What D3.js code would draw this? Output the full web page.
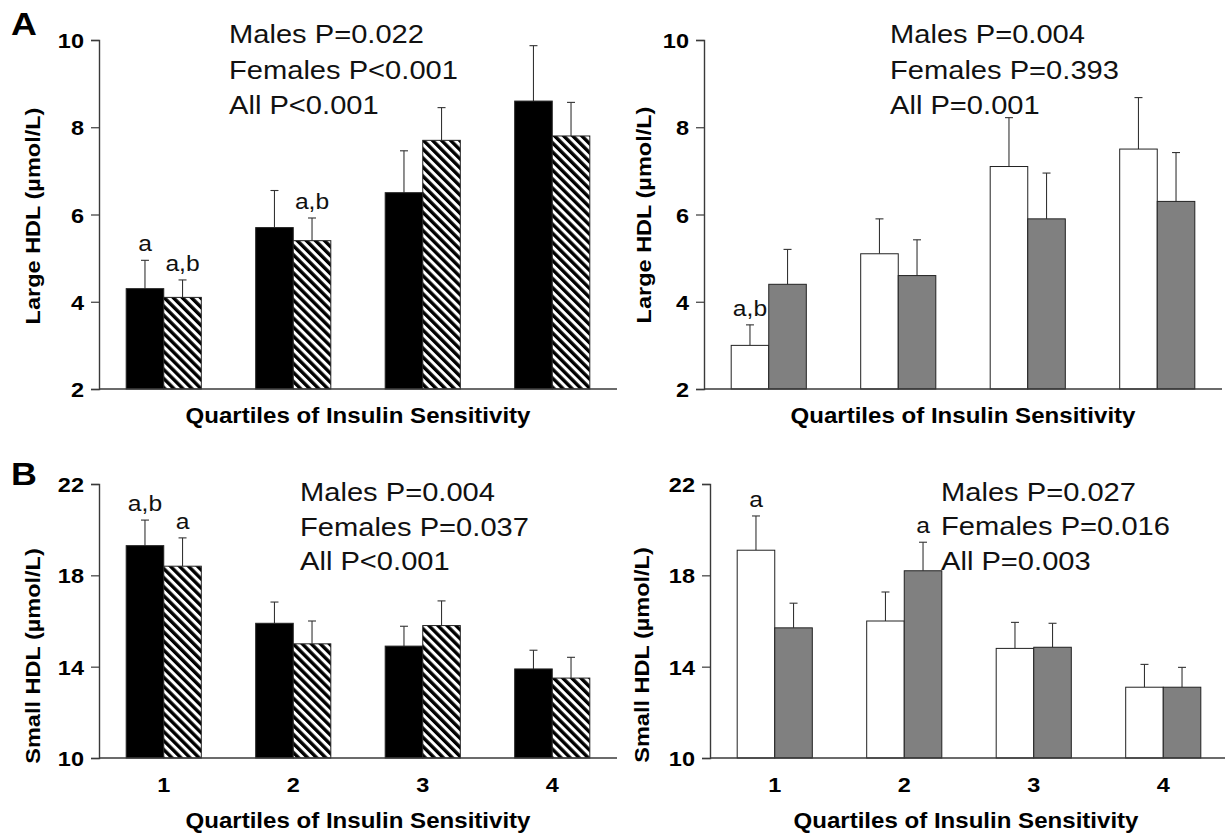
<!DOCTYPE html>
<html>
<head>
<meta charset="utf-8">
<script src="https://cdn.jsdelivr.net/npm/d3@7"></script>
<style>
  html, body { margin: 0; padding: 0; background: #fff; }
  svg { display: block; font-family: "Liberation Sans", Arial, sans-serif; }
</style>
</head>
<body>
<svg id="chart" width="1225" height="834"></svg>
<script>
// ---------------- DATA ----------------
const quartiles = ["1", "2", "3", "4"];

// Panel A (Large HDL), left: solid black / hatched
const largeLeftSolid      = [4.3, 5.7, 6.5, 8.6];
const largeLeftSolidErr   = [0.65, 0.85, 0.96, 1.27];
const largeLeftHatched    = [4.1, 5.4, 7.7, 7.8];
const largeLeftHatchedErr = [0.40, 0.52, 0.75, 0.77];
const largeLeftSolidLbl   = ["a", "", "", ""];
const largeLeftHatchedLbl = ["a,b", "a,b", "", ""];

// Panel A (Large HDL), right: white / gray
const largeRightWhite     = [3.0, 5.1, 7.1, 7.5];
const largeRightWhiteErr  = [0.47, 0.80, 1.12, 1.18];
const largeRightGray      = [4.4, 4.6, 5.9, 6.3];
const largeRightGrayErr   = [0.80, 0.82, 1.05, 1.12];
const largeRightWhiteLbl  = ["a,b", "", "", ""];
const largeRightGrayLbl   = ["", "", "", ""];

// Panel B (Small HDL), left: solid black / hatched
const smallLeftSolid      = [19.3, 15.9, 14.9, 13.9];
const smallLeftSolidErr   = [1.12, 0.93, 0.87, 0.82];
const smallLeftHatched    = [18.4, 15.0, 15.8, 13.5];
const smallLeftHatchedErr = [1.24, 1.00, 1.08, 0.91];
const smallLeftSolidLbl   = ["a,b", "", "", ""];
const smallLeftHatchedLbl = ["a", "", "", ""];

// Panel B (Small HDL), right: white / gray
const smallRightWhite     = [19.1, 16.0, 14.8, 13.1];
const smallRightWhiteErr  = [1.50, 1.27, 1.14, 1.00];
const smallRightGray      = [15.7, 18.2, 14.85, 13.1];
const smallRightGrayErr   = [1.08, 1.25, 1.05, 0.87];
const smallRightWhiteLbl  = ["a", "", "", ""];
const smallRightGrayLbl   = ["", "a", "", ""];

const largeTicks = [2, 4, 6, 8, 10];
const smallTicks = [10, 14, 18, 22];
const largeDomain = [2, 10];
const smallDomain = [10, 22];

const pLargeLeft  = ["Males P=0.022", "Females P<0.001", "All P<0.001"];
const pLargeRight = ["Males P=0.004", "Females P=0.393", "All P=0.001"];
const pSmallLeft  = ["Males P=0.004", "Females P=0.037", "All P<0.001"];
const pSmallRight = ["Males P=0.027", "Females P=0.016", "All P=0.003"];

const xTitle = "Quartiles of Insulin Sensitivity";
const yTitleLarge = "Large HDL (µmol/L)";
const yTitleSmall = "Small HDL (µmol/L)";

// ---------------- DRAWING ----------------
const svg = d3.select("#chart");
const SX = 1.12; // horizontal stretch of the reference's typeface

const defs = svg.append("defs");
const pat = defs.append("pattern")
  .attr("id", "hatch")
  .attr("patternUnits", "userSpaceOnUse")
  .attr("width", 6.4).attr("height", 6.4)
  .attr("patternTransform", "rotate(-45)");
pat.append("rect").attr("width", 6.4).attr("height", 6.4).attr("fill", "#fff");
pat.append("rect").attr("width", 3.4).attr("height", 6.4).attr("fill", "#000");

const fills = {
  solid:   "#000",
  hatched: "url(#hatch)",
  white:   "#fff",
  gray:    "#808080"
};
const axisColor = "#3a3a3a";

function addText(parent, x, y, str, size, opts = {}) {
  const t = parent.append("text")
    .attr("transform", opts.rotate
      ? `translate(${x},${y}) rotate(-90) scale(${SX},1)`
      : `translate(${x},${y}) scale(${SX},1)`)
    .attr("font-size", size)
    .attr("fill", opts.fill || "#000")
    .attr("text-anchor", opts.anchor || "start")
    .text(str);
  if (opts.bold) t.attr("font-weight", "bold");
  return t;
}

function drawPanel(cfg) {
  const g = svg.append("g");
  const x = d3.scaleBand().domain(quartiles).range([cfg.x0, cfg.x1])
    .paddingInner(0.42).paddingOuter(0.21);
  const sub = d3.scaleBand().domain([0, 1]).range([0, x.bandwidth()]);
  const y = d3.scaleLinear().domain(cfg.domain).range([cfg.yBottom, cfg.yTop]);

  // y axis
  const yAx = g.append("g").attr("transform", `translate(${cfg.x0},0)`)
    .call(d3.axisLeft(y).tickValues(cfg.ticks).tickSize(8).tickPadding(7).tickFormat(d3.format("d")));
  yAx.select(".domain").attr("stroke", axisColor).attr("stroke-width", 1.4);
  yAx.selectAll(".tick line").attr("stroke", axisColor).attr("stroke-width", 1.2);
  yAx.selectAll(".tick text")
    .attr("font-size", 21).attr("font-weight", "bold")
    .attr("fill", "#000").attr("font-family", "Liberation Sans, Arial, sans-serif")
    .attr("dy", "0.36em")
    .attr("transform", `translate(-15,0) scale(${SX},1)`)
    .attr("x", 0);

  // bars
  cfg.series.forEach((s, si) => {
    const grp = g.append("g");
    quartiles.forEach((q, i) => {
      const bx = x(q) + sub(si);
      const bw = sub.bandwidth();
      const v = s.values[i];
      const top = y(v);
      const errTop = y(v + s.err[i]);
      const cx = bx + bw / 2;
      grp.append("line").attr("x1", cx).attr("x2", cx).attr("y1", top).attr("y2", errTop)
        .attr("stroke", "#333").attr("stroke-width", 1.1);
      grp.append("line").attr("x1", cx - 4).attr("x2", cx + 4).attr("y1", errTop).attr("y2", errTop)
        .attr("stroke", "#333").attr("stroke-width", 1.1);
      grp.append("rect").attr("x", bx).attr("y", top).attr("width", bw)
        .attr("height", y(cfg.domain[0]) - top)
        .attr("fill", fills[s.kind]).attr("stroke", "#222").attr("stroke-width", 1);
      if (s.labels[i]) {
        addText(grp, cx, errTop - 9, s.labels[i], 22, { anchor: "middle", fill: "#111" });
      }
    });
  });

  // x axis line
  g.append("line").attr("x1", cfg.x0).attr("x2", cfg.x1).attr("y1", cfg.yBottom).attr("y2", cfg.yBottom)
    .attr("stroke", axisColor).attr("stroke-width", 1.4);

  if (cfg.showXTicks) {
    quartiles.forEach(q => {
      addText(g, x(q) + x.bandwidth() / 2, cfg.yBottom + 34, q, 21, { anchor: "middle", bold: true });
    });
  }

  addText(g, (cfg.x0 + Math.min(cfg.x1, 1222)) / 2, cfg.xTitleY, xTitle, 21.5, { anchor: "middle", bold: true });
  addText(g, cfg.yTitleX, cfg.yTitleCy, cfg.yTitle, 21, { anchor: "middle", bold: true, rotate: true });

  cfg.pText.forEach((t, i) => {
    addText(g, cfg.pX, cfg.pY + i * cfg.pDy, t, 26, { fill: "#111" });
  });
}

drawPanel({
  x0: 99, x1: 617, yTop: 40, yBottom: 389, domain: largeDomain, ticks: largeTicks,
  series: [
    { kind: "solid", values: largeLeftSolid, err: largeLeftSolidErr, labels: largeLeftSolidLbl },
    { kind: "hatched", values: largeLeftHatched, err: largeLeftHatchedErr, labels: largeLeftHatchedLbl }
  ],
  showXTicks: false, xTitleY: 423, yTitle: yTitleLarge, yTitleX: 40, yTitleCy: 216,
  pText: pLargeLeft, pX: 229, pY: 43, pDy: 35.5
});
drawPanel({
  x0: 704, x1: 1222, yTop: 40, yBottom: 389, domain: largeDomain, ticks: largeTicks,
  series: [
    { kind: "white", values: largeRightWhite, err: largeRightWhiteErr, labels: largeRightWhiteLbl },
    { kind: "gray", values: largeRightGray, err: largeRightGrayErr, labels: largeRightGrayLbl }
  ],
  showXTicks: false, xTitleY: 423, yTitle: yTitleLarge, yTitleX: 651, yTitleCy: 215,
  pText: pLargeRight, pX: 890, pY: 43, pDy: 35.5
});
drawPanel({
  x0: 99, x1: 617, yTop: 484, yBottom: 758, domain: smallDomain, ticks: smallTicks,
  series: [
    { kind: "solid", values: smallLeftSolid, err: smallLeftSolidErr, labels: smallLeftSolidLbl },
    { kind: "hatched", values: smallLeftHatched, err: smallLeftHatchedErr, labels: smallLeftHatchedLbl }
  ],
  showXTicks: true, xTitleY: 828, yTitle: yTitleSmall, yTitleX: 40, yTitleCy: 656,
  pText: pSmallLeft, pX: 300, pY: 501, pDy: 34.5
});
drawPanel({
  x0: 710, x1: 1228, yTop: 484, yBottom: 758, domain: smallDomain, ticks: smallTicks,
  series: [
    { kind: "white", values: smallRightWhite, err: smallRightWhiteErr, labels: smallRightWhiteLbl },
    { kind: "gray", values: smallRightGray, err: smallRightGrayErr, labels: smallRightGrayLbl }
  ],
  showXTicks: true, xTitleY: 828, yTitle: yTitleSmall, yTitleX: 649, yTitleCy: 655,
  pText: pSmallRight, pX: 941, pY: 501, pDy: 34.3
});

// Panel letters
addText(svg, 11, 35, "A", 32, { bold: true });
addText(svg, 11, 485, "B", 32, { bold: true });
</script>
</body>
</html>
